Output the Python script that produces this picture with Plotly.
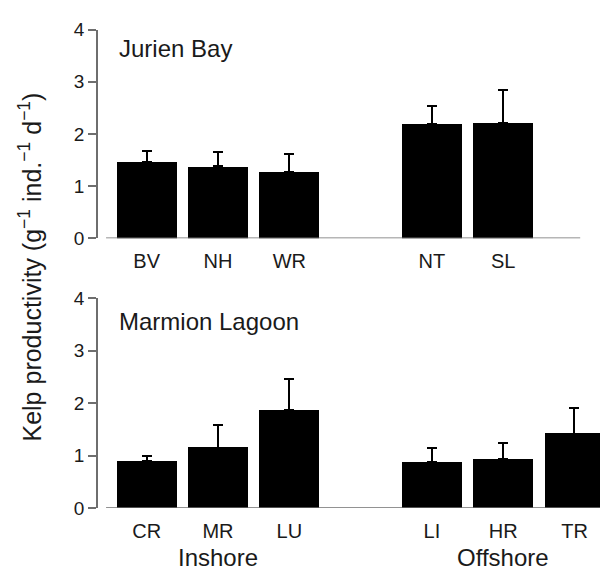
import plotly.graph_objects as go

# ---------------- data ----------------
jb_inshore_sites = ["BV", "NH", "WR"]
jb_inshore_mean = [1.47, 1.38, 1.28]
jb_inshore_se = [0.21, 0.27, 0.34]

jb_offshore_sites = ["NT", "SL"]
jb_offshore_mean = [2.19, 2.21]
jb_offshore_se = [0.34, 0.64]

ml_inshore_sites = ["CR", "MR", "LU"]
ml_inshore_mean = [0.90, 1.15, 1.87]
ml_inshore_se = [0.10, 0.44, 0.59]

ml_offshore_sites = ["LI", "HR", "TR"]
ml_offshore_mean = [0.87, 0.93, 1.42]
ml_offshore_se = [0.28, 0.31, 0.48]

panel_titles = ["Jurien Bay", "Marmion Lagoon"]
group_labels = ["Inshore", "Offshore"]
y_ticks = [0, 1, 2, 3, 4]
y_title = "Kelp productivity (g<sup>\u22121</sup> ind.<sup>\u22121</sup> d<sup>\u22121</sup>)"

FONT = "Liberation Sans, Arial, Helvetica, sans-serif"
TXT = "#1a1a1a"
AX = "#6e6e6e"

# the page body adds an 8 px margin, so the figure is 8 px smaller
OFF = 8
W, H = 608 - OFF, 581 - OFF
ML = 98 - OFF


def py(px_ref):
    """reference pixel row -> paper fraction"""
    return 1 - (px_ref - OFF) / H


def px(px_ref):
    """reference pixel column -> paper fraction"""
    return (px_ref - OFF - ML) / (W - ML)


def positions(n_in, n_off):
    inner = list(range(n_in))
    outer = [n_in + 1 + i for i in range(n_off)]
    return inner, outer


fig = go.Figure()

panels = [
    (jb_inshore_sites, jb_inshore_mean, jb_inshore_se,
     jb_offshore_sites, jb_offshore_mean, jb_offshore_se, "x", "y"),
    (ml_inshore_sites, ml_inshore_mean, ml_inshore_se,
     ml_offshore_sites, ml_offshore_mean, ml_offshore_se, "x2", "y2"),
]

all_ticks = []
for (s_in, m_in, e_in, s_off, m_off, e_off, xa, ya) in panels:
    p_in, p_off = positions(len(s_in), len(s_off))
    xs = p_in + p_off
    ms = m_in + m_off
    es = e_in + e_off
    fig.add_trace(go.Bar(
        x=xs, y=ms, xaxis=xa, yaxis=ya,
        width=0.84,
        marker=dict(color="black", line=dict(width=0)),
        error_y=dict(type="data", symmetric=False, array=es,
                     arrayminus=[0] * len(es),
                     color="black", thickness=2, width=5),
        showlegend=False,
        hoverinfo="skip",
    ))
    all_ticks.append((xs, s_in + s_off, p_in, p_off))

x_range = [-0.683, 6.47]

xax_common = dict(
    range=x_range, showline=False, showgrid=False, zeroline=False,
    ticks="outside", ticklen=5, tickcolor="rgba(0,0,0,0)",
    tickfont=dict(family=FONT, size=20, color=TXT),
    domain=[0, 1], fixedrange=True,
)
yax_common = dict(
    range=[0, 4], tickvals=y_ticks, showline=True, linecolor=AX, linewidth=1.5,
    ticks="outside", ticklen=8, tickcolor=AX, tickwidth=1.5,
    showgrid=False, zeroline=False,
    tickfont=dict(family=FONT, size=19, color=TXT),
    fixedrange=True,
)

fig.update_layout(
    width=W, height=H,
    margin=dict(l=ML, r=0, t=0, b=0),
    paper_bgcolor="white", plot_bgcolor="white",
    bargap=0,
    xaxis=dict(xax_common, anchor="y", tickvals=all_ticks[0][0], ticktext=all_ticks[0][1]),
    yaxis=dict(yax_common, anchor="x", domain=[py(236.7), py(20)]),
    xaxis2=dict(xax_common, anchor="y2", tickvals=all_ticks[1][0], ticktext=all_ticks[1][1]),
    yaxis2=dict(yax_common, anchor="x2", domain=[py(516.7), py(299)]),
)

# x-axis baselines (start a little right of the y axis, as in the original)
fig.add_shape(type="line", xref="x", yref="y", x0=-0.57, x1=6.08, y0=0, y1=0,
              line=dict(color=AX, width=1.5))
fig.add_shape(type="line", xref="x2", yref="y2", x0=-0.57, x1=6.6, y0=0, y1=0,
              line=dict(color=AX, width=1.5))

# panel titles
fig.add_annotation(text=panel_titles[0], xref="x", yref="y", x=-0.42, y=3.64,
                   xanchor="left", yanchor="middle", showarrow=False,
                   font=dict(family=FONT, size=24, color=TXT))
fig.add_annotation(text=panel_titles[1], xref="x2", yref="y2", x=-0.42, y=3.56,
                   xanchor="left", yanchor="middle", showarrow=False,
                   font=dict(family=FONT, size=24, color=TXT))

# group labels under the bottom panel
_, _, p_in, p_off = all_ticks[1]
for lab, grp in zip(group_labels, [p_in, p_off]):
    fig.add_annotation(text=lab, xref="x2", yref="paper",
                       x=sum(grp) / len(grp), y=py(568),
                       xanchor="center", yanchor="middle", showarrow=False,
                       font=dict(family=FONT, size=24, color=TXT))

# y-axis title
fig.add_annotation(text=y_title, xref="paper", yref="paper",
                   x=px(30), y=py(267),
                   xanchor="center", yanchor="middle", textangle=-90,
                   showarrow=False, font=dict(family=FONT, size=25, color=TXT))

fig.write_html("out.html")
